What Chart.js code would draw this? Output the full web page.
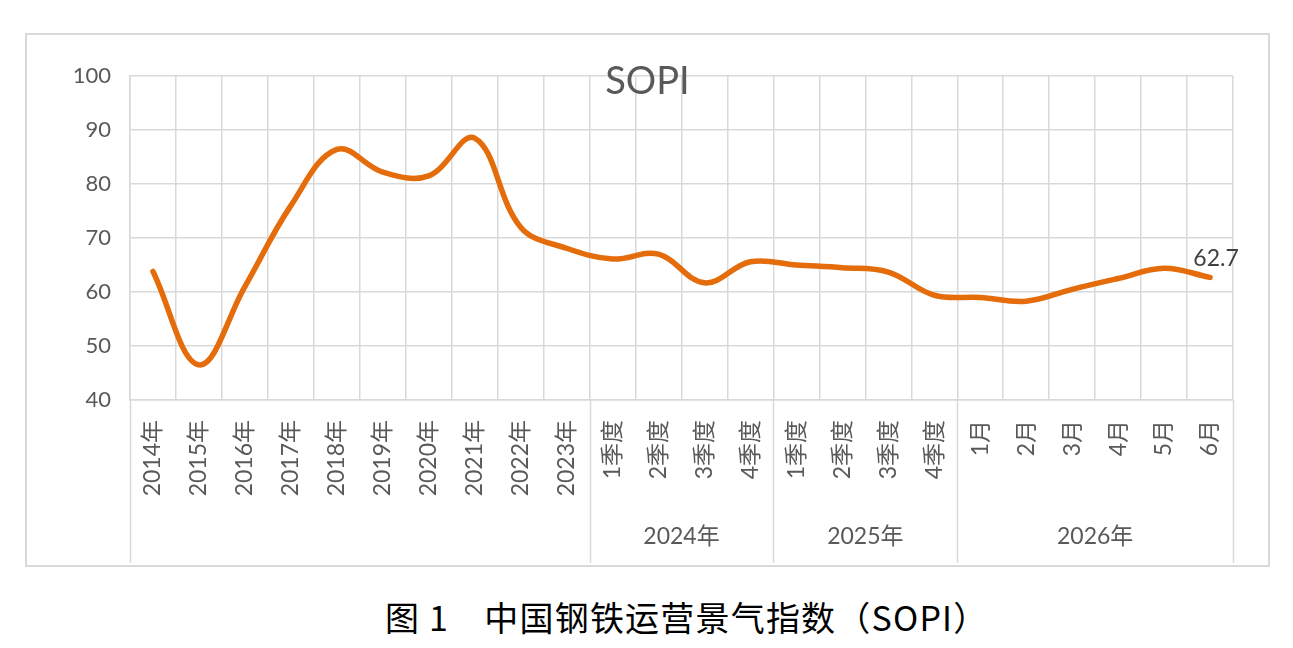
<!DOCTYPE html>
<html>
<head>
<meta charset="utf-8">
<script src="https://cdn.jsdelivr.net/npm/chart.js@4.4.1/dist/chart.umd.min.js"></script>
<style>
  body { margin: 0; background: #fff; width: 1293px; height: 648px; position: relative; overflow: hidden; }
  #box { position: absolute; left: 25px; top: 33px; width: 1241px; height: 530px; border: 2px solid #d9d9d9; }
  #box canvas { display: block; }
  #caption { position: absolute; left: 385px; top: 592px; white-space: nowrap;
             font: 34px 'Noto Sans CJK SC', sans-serif; color: #000; letter-spacing: 1.2px; }
</style>
</head>
<body>
<div id="box"><canvas id="sopiChart" width="1241" height="530"></canvas></div>
<div id="caption">图 1　中国钢铁运营景气指数（SOPI）</div>
<script>
// categories (first level of the axis)
const categories = [
  "2014年", "2015年", "2016年", "2017年", "2018年", "2019年", "2020年", "2021年", "2022年", "2023年",
  "1季度", "2季度", "3季度", "4季度",
  "1季度", "2季度", "3季度", "4季度",
  "1月", "2月", "3月", "4月", "5月", "6月"
];
// second level of the axis
const groupLabels = ["", "2024年", "2025年", "2026年"];
const groupSizes = [10, 4, 4, 6];

const sopiValues = [
  63.8, 46.5, 61.0, 76.0, 86.4, 82.2, 81.5, 88.5, 72.0, 68.1,
  66.1, 67.0, 61.7, 65.6,
  65.0, 64.5, 63.7, 59.4,
  59.0, 58.3, 60.5, 62.5, 64.4, 62.7
];
const yTicks = [40, 50, 60, 70, 80, 90, 100];

const chartTitle = "SOPI";
const FONT = "Lato, 'Noto Sans CJK SC', sans-serif";
const GRID = "#d9d9d9";
const TEXT = "#595959";

// title, last value label and the grouped category row
const extrasPlugin = {
  id: "extras",
  afterDraw(chart) {
    const ctx = chart.ctx;
    const xs = chart.scales.x;
    const area = chart.chartArea;
    ctx.save();

    // title, overlaid on the plot
    ctx.font = "38px " + FONT;
    ctx.fillStyle = TEXT;
    ctx.textAlign = "center";
    ctx.textBaseline = "middle";
    ctx.fillText(chartTitle, chart.width / 2, 47);

    // label for the last point
    const meta = chart.getDatasetMeta(0);
    const last = meta.data[meta.data.length - 1];
    ctx.font = "23px " + FONT;
    ctx.fillStyle = "#404040";
    ctx.fillText(sopiValues[sopiValues.length - 1].toFixed(1), last.x + 6, last.y - 19);

    // group separators and group labels
    const half = (xs.getPixelForValue(1) - xs.getPixelForValue(0)) / 2;
    const edges = [0];
    groupSizes.forEach(n => edges.push(edges[edges.length - 1] + n));
    ctx.strokeStyle = GRID;
    ctx.lineWidth = 1.5;
    edges.forEach(i => {
      const px = Math.round(xs.getPixelForValue(i) - half) + 0.5;
      ctx.beginPath();
      ctx.moveTo(px, area.bottom);
      ctx.lineTo(px, xs.bottom);
      ctx.stroke();
    });
    ctx.font = "23px " + FONT;
    ctx.fillStyle = TEXT;
    groupLabels.forEach((lab, k) => {
      if (!lab) return;
      const a = xs.getPixelForValue(edges[k]) - half;
      const b = xs.getPixelForValue(edges[k + 1]) - half;
      ctx.fillText(lab, (a + b) / 2, xs.bottom - 26);
    });
    ctx.restore();
  }
};

const canvas = document.getElementById("sopiChart");
const myChart = new Chart(canvas, {
  type: "line",
  data: {
    labels: categories,
    datasets: [{
      label: chartTitle,
      data: sopiValues,
      borderColor: "#E46C0A",
      borderWidth: 5.5,
      borderCapStyle: "round",
      borderJoinStyle: "round",
      pointRadius: 0,
      tension: 0.38,
      fill: false
    }]
  },
  options: {
    responsive: false,
    animation: false,
    layout: { padding: { left: 0, right: 35, top: 41, bottom: 2 } },
    plugins: {
      legend: { display: false },
      tooltip: { enabled: false },
      title: { display: false }
    },
    scales: {
      x: {
        offset: true,
        grid: { offset: true, color: GRID, lineWidth: 1.5, drawTicks: false },
        border: { color: GRID, width: 1.5 },
        ticks: {
          autoSkip: false,
          minRotation: 90,
          maxRotation: 90,
          padding: 20,
          color: TEXT,
          font: { family: FONT, size: 23 }
        },
        afterFit(scale) { scale.height = 163; }
      },
      y: {
        min: 40,
        max: 100,
        afterBuildTicks(scale) { scale.ticks = yTicks.map(v => ({ value: v })); },
        grid: { color: GRID, lineWidth: 1.5, drawTicks: false },
        border: { color: GRID, width: 1.5 },
        ticks: {
          padding: 19,
          color: TEXT,
          font: { family: FONT, size: 22 }
        },
        afterFit(scale) { scale.width = 103; }
      }
    }
  },
  plugins: [extrasPlugin]
});
</script>
</body>
</html>
